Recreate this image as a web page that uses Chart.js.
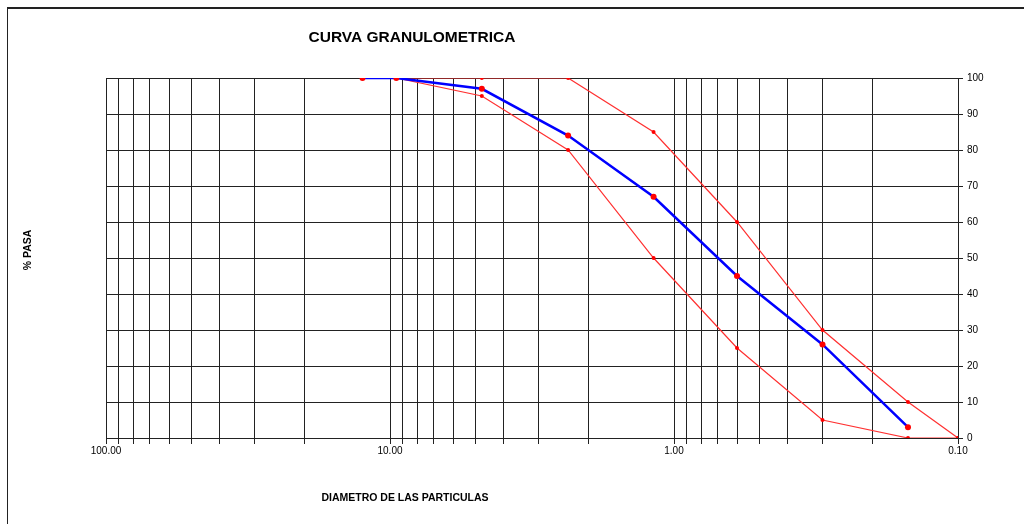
<!DOCTYPE html>
<html lang="es">
<head>
<meta charset="UTF-8">
<title>Curva granulometrica</title>
<script src="https://cdn.jsdelivr.net/npm/chart.js@4.4.1/dist/chart.umd.min.js"></script>
<style>
  html, body { margin: 0; padding: 0; background: #fff; }
  .wrap { position: relative; width: 1024px; height: 524px; }
  .frame { position: absolute; left: 7px; top: 7px; right: 0; bottom: 0;
           border-top: 2px solid #222; border-left: 1px solid #222; }
  canvas { position: absolute; left: 0; top: 0; }
</style>
</head>
<body>
<div class="wrap">
  <div class="frame"></div>
  <canvas id="curva" width="1024" height="524"></canvas>
</div>
<script>
// tamices (mm) y % que pasa
const tamiz     = [12.5, 9.5, 4.75, 2.36, 1.18, 0.6, 0.3, 0.15];
const pasa      = [100, 100, 97, 84, 67, 45, 26, 3];

const tamizSup  = [12.5, 9.5, 4.75, 2.36, 1.18, 0.6, 0.3, 0.15, 0.1];
const limiteSup = [100, 100, 100, 100, 85, 60, 30, 10, 0];

const tamizInf  = [9.5, 4.75, 2.36, 1.18, 0.6, 0.3, 0.15, 0.1];
const limiteInf = [100, 95, 80, 50, 25, 5, 0, 0];

const xLabels = [100, 10, 1, 0.1];

const xGrid = [];
[0.1, 1, 10].forEach(d => {
  for (let k = 1; k <= 9; k++) xGrid.push(Number((k * d).toPrecision(3)));
});
xGrid.push(100);

const pts = (xs, ys) => xs.map((x, i) => ({ x: x, y: ys[i] }));

const FONT = "'Liberation Sans', Arial, sans-serif";

const textos = {
  id: 'textos',
  afterDraw(chart) {
    const c = chart.ctx;
    c.save();
    c.fillStyle = '#000';
    c.textAlign = 'center';
    c.textBaseline = 'middle';
    c.font = 'bold 15.5px ' + FONT;
    c.fillText('CURVA GRANULOMETRICA', 412, 38);
    c.font = 'bold 10.5px ' + FONT;
    c.fillText('DIAMETRO DE LAS PARTICULAS', 405, 498);
    c.translate(28, 250);
    c.rotate(-Math.PI / 2);
    c.fillText('% PASA', 0, 0);
    c.restore();
  }
};

new Chart(document.getElementById('curva'), {
  type: 'line',
  data: {
    datasets: [
      {
        label: 'Muestra',
        data: pts(tamiz, pasa),
        borderColor: '#0000ff',
        borderWidth: 2.5,
        pointRadius: 3,
        pointBorderWidth: 0,
        pointBackgroundColor: '#ff0000',
        pointBorderColor: '#ff0000',
        order: 0
      },
      {
        label: 'Limite superior',
        data: pts(tamizSup, limiteSup),
        borderColor: '#ff3030',
        borderWidth: 1.2,
        pointRadius: 2,
        pointBorderWidth: 0,
        pointBackgroundColor: '#ff0000',
        pointBorderColor: '#ff0000',
        order: 1
      },
      {
        label: 'Limite inferior',
        data: pts(tamizInf, limiteInf),
        borderColor: '#ff3030',
        borderWidth: 1.2,
        pointRadius: 2,
        pointBorderWidth: 0,
        pointBackgroundColor: '#ff0000',
        pointBorderColor: '#ff0000',
        order: 1
      }
    ]
  },
  options: {
    responsive: false,
    animation: false,
    layout: { padding: { left: 106, right: 36, top: 78, bottom: 0 } },
    plugins: { legend: { display: false }, tooltip: { enabled: false } },
    elements: { line: { tension: 0 } },
    scales: {
      x: {
        type: 'logarithmic',
        reverse: true,
        min: 0.1,
        max: 100,
        afterBuildTicks: s => { s.ticks = xGrid.map(v => ({ value: v })); },
        afterFit: s => { s.height = 86; },
        grid: { color: '#222', lineWidth: 1, tickLength: 6, tickColor: '#222' },
        border: { color: '#222' },
        ticks: {
          autoSkip: false,
          maxRotation: 0,
          padding: 1,
          color: '#000',
          font: { family: FONT, size: 10 },
          callback: v => xLabels.some(l => Math.abs(l - v) < 1e-9) ? Number(v).toFixed(2) : ''
        }
      },
      y: {
        position: 'right',
        min: 0,
        max: 100,
        afterFit: s => { s.width = 30; },
        grid: { color: '#222', lineWidth: 1, tickLength: 5, tickColor: '#222' },
        border: { color: '#222' },
        ticks: { stepSize: 10, padding: 4, color: '#000', font: { family: FONT, size: 10 } }
      }
    }
  },
  plugins: [textos]
});
</script>
</body>
</html>
